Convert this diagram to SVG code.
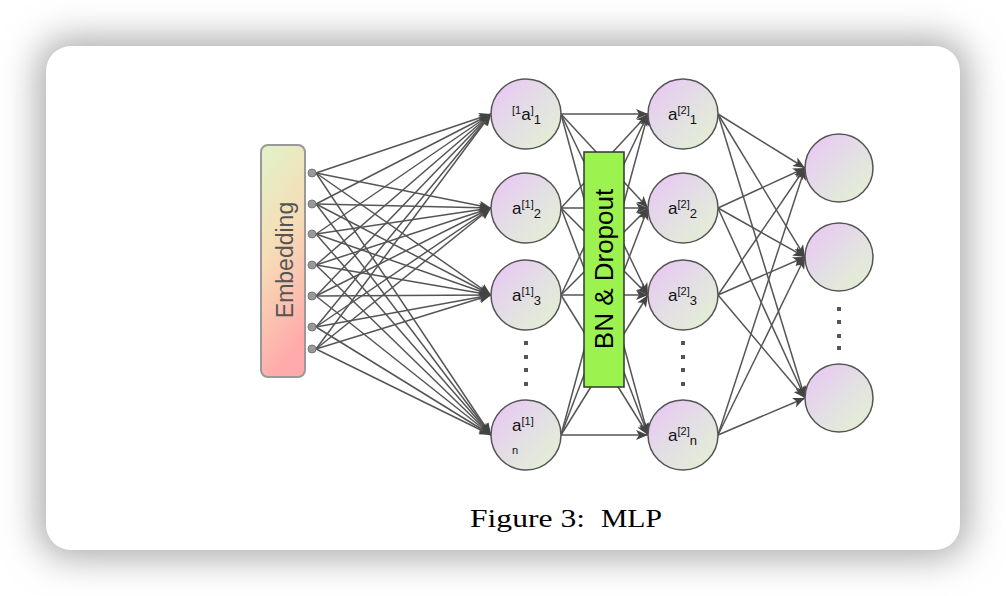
<svg xmlns="http://www.w3.org/2000/svg" width="1006" height="596" viewBox="0 0 1006 596">
<defs>
<filter id="sh" x="-20%" y="-20%" width="140%" height="140%"><feGaussianBlur stdDeviation="18"/></filter>
<linearGradient id="ng" x1="0" y1="0" x2="1" y2="1"><stop offset="0" stop-color="#eac3f7"/><stop offset="0.5" stop-color="#e3dfe4"/><stop offset="1" stop-color="#e3f3d0"/></linearGradient>
<linearGradient id="eg" x1="0" y1="0" x2="0.25" y2="1"><stop offset="0" stop-color="#e1f3c9"/><stop offset="0.5" stop-color="#f6dcb6"/><stop offset="1" stop-color="#ffabab"/></linearGradient>
<marker id="ar" viewBox="0 0 12 10" refX="12" refY="5" markerWidth="12" markerHeight="10" markerUnits="userSpaceOnUse" orient="auto"><path d="M0,0 L12,5 L0,10 L3,5 z" fill="#444"/></marker>
<style>
.e{stroke:#555;stroke-width:1.5;fill:none;marker-end:url(#ar)}
.n{fill:url(#ng);stroke:#555;stroke-width:1.5}
.d{fill:#999;stroke:#777;stroke-width:1}
.l{font-family:"Liberation Sans",Arial,sans-serif;fill:#111}
.dot{fill:#555}
.cap{font-family:"Liberation Serif","Times New Roman",serif;font-size:26px;fill:#000}
</style>
</defs>
<rect x="0" y="0" width="1006" height="596" fill="#fff"/>
<rect x="38" y="38" width="930" height="520" rx="32" fill="#aaa" filter="url(#sh)"/>
<rect x="46" y="46" width="914" height="504" rx="25" fill="#fff"/>
<g id="connectors">
<line class="e" x1="316" y1="173" x2="491" y2="114"/><line class="e" x1="316" y1="173" x2="491" y2="208"/><line class="e" x1="316" y1="173" x2="491" y2="295"/><line class="e" x1="316" y1="173" x2="491" y2="435"/>
<line class="e" x1="316" y1="204" x2="491" y2="114"/><line class="e" x1="316" y1="204" x2="491" y2="208"/><line class="e" x1="316" y1="204" x2="491" y2="295"/><line class="e" x1="316" y1="204" x2="491" y2="435"/>
<line class="e" x1="316" y1="234" x2="491" y2="114"/><line class="e" x1="316" y1="234" x2="491" y2="208"/><line class="e" x1="316" y1="234" x2="491" y2="295"/><line class="e" x1="316" y1="234" x2="491" y2="435"/>
<line class="e" x1="316" y1="265" x2="491" y2="114"/><line class="e" x1="316" y1="265" x2="491" y2="208"/><line class="e" x1="316" y1="265" x2="491" y2="295"/><line class="e" x1="316" y1="265" x2="491" y2="435"/>
<line class="e" x1="316" y1="296" x2="491" y2="114"/><line class="e" x1="316" y1="296" x2="491" y2="208"/><line class="e" x1="316" y1="296" x2="491" y2="295"/><line class="e" x1="316" y1="296" x2="491" y2="435"/>
<line class="e" x1="316" y1="327" x2="491" y2="114"/><line class="e" x1="316" y1="327" x2="491" y2="208"/><line class="e" x1="316" y1="327" x2="491" y2="295"/><line class="e" x1="316" y1="327" x2="491" y2="435"/>
<line class="e" x1="316" y1="349" x2="491" y2="114"/><line class="e" x1="316" y1="349" x2="491" y2="208"/><line class="e" x1="316" y1="349" x2="491" y2="295"/><line class="e" x1="316" y1="349" x2="491" y2="435"/>
<line class="e" x1="561" y1="114" x2="648" y2="114"/><line class="e" x1="561" y1="114" x2="648" y2="208"/><line class="e" x1="561" y1="114" x2="648" y2="295"/><line class="e" x1="561" y1="114" x2="648" y2="435"/>
<line class="e" x1="561" y1="208" x2="648" y2="114"/><line class="e" x1="561" y1="208" x2="648" y2="208"/><line class="e" x1="561" y1="208" x2="648" y2="295"/><line class="e" x1="561" y1="208" x2="648" y2="435"/>
<line class="e" x1="561" y1="295" x2="648" y2="114"/><line class="e" x1="561" y1="295" x2="648" y2="208"/><line class="e" x1="561" y1="295" x2="648" y2="295"/><line class="e" x1="561" y1="295" x2="648" y2="435"/>
<line class="e" x1="561" y1="435" x2="648" y2="114"/><line class="e" x1="561" y1="435" x2="648" y2="208"/><line class="e" x1="561" y1="435" x2="648" y2="295"/><line class="e" x1="561" y1="435" x2="648" y2="435"/>
<line class="e" x1="718" y1="114" x2="805" y2="168"/><line class="e" x1="718" y1="114" x2="805" y2="257"/><line class="e" x1="718" y1="114" x2="805" y2="398"/>
<line class="e" x1="718" y1="208" x2="805" y2="168"/><line class="e" x1="718" y1="208" x2="805" y2="257"/><line class="e" x1="718" y1="208" x2="805" y2="398"/>
<line class="e" x1="718" y1="295" x2="805" y2="168"/><line class="e" x1="718" y1="295" x2="805" y2="257"/><line class="e" x1="718" y1="295" x2="805" y2="398"/>
<line class="e" x1="718" y1="435" x2="805" y2="168"/><line class="e" x1="718" y1="435" x2="805" y2="257"/><line class="e" x1="718" y1="435" x2="805" y2="398"/>
</g>
<g id="embedding">
<rect x="261" y="145" width="44" height="232" rx="7" fill="url(#eg)" stroke="#999" stroke-width="2"/>
<text transform="translate(293,260) rotate(-90)" text-anchor="middle" font-family="Liberation Sans, Arial, sans-serif" font-size="23" fill="#555">Embedding</text>
<circle class="d" cx="312" cy="173" r="4"/><circle class="d" cx="312" cy="204" r="4"/><circle class="d" cx="312" cy="234" r="4"/><circle class="d" cx="312" cy="265" r="4"/><circle class="d" cx="312" cy="296" r="4"/><circle class="d" cx="312" cy="327" r="4"/><circle class="d" cx="312" cy="349" r="4"/>
</g>
<g id="bn">
<rect x="584" y="152" width="40" height="235" fill="#9cf24f" stroke="#333" stroke-width="1.5"/>
<text transform="translate(613,269) rotate(-90)" text-anchor="middle" font-family="Liberation Sans, Arial, sans-serif" font-size="26" fill="#000">BN &amp; Dropout</text>
</g>
<g id="h1_1"><circle class="n" cx="526" cy="114" r="35"/><text class="l" x="512" y="120"><tspan font-size="11" dy="-6">[1</tspan><tspan font-size="17" dy="6">a</tspan><tspan font-size="11" dy="-6">]</tspan><tspan font-size="13" dy="10">1</tspan></text></g>
<g id="h1_2"><circle class="n" cx="526" cy="208" r="35"/><text class="l" x="512" y="214"><tspan font-size="17">a</tspan><tspan font-size="11" dy="-6">[1]</tspan><tspan font-size="13" dy="10">2</tspan></text></g>
<g id="h1_3"><circle class="n" cx="526" cy="295" r="35"/><text class="l" x="512" y="301"><tspan font-size="17">a</tspan><tspan font-size="11" dy="-6">[1]</tspan><tspan font-size="13" dy="10">3</tspan></text></g>
<g id="h1_n"><circle class="n" cx="526" cy="435" r="35"/><text class="l" x="512" y="431"><tspan font-size="17">a</tspan><tspan font-size="11" dy="-6">[1]</tspan></text><text class="l" x="512" y="454" font-size="11">n</text></g>
<g id="h1_dots"><rect class="dot" x="524" y="341" width="4" height="4"/><rect class="dot" x="524" y="355" width="4" height="4"/><rect class="dot" x="524" y="368" width="4" height="4"/><rect class="dot" x="524" y="382" width="4" height="4"/></g>
<g id="h2_1"><circle class="n" cx="683" cy="114" r="35"/><text class="l" x="668" y="120"><tspan font-size="17">a</tspan><tspan font-size="11" dy="-6">[2]</tspan><tspan font-size="13" dy="10">1</tspan></text></g>
<g id="h2_2"><circle class="n" cx="683" cy="208" r="35"/><text class="l" x="668" y="214"><tspan font-size="17">a</tspan><tspan font-size="11" dy="-6">[2]</tspan><tspan font-size="13" dy="10">2</tspan></text></g>
<g id="h2_3"><circle class="n" cx="683" cy="295" r="35"/><text class="l" x="668" y="301"><tspan font-size="17">a</tspan><tspan font-size="11" dy="-6">[2]</tspan><tspan font-size="13" dy="10">3</tspan></text></g>
<g id="h2_n"><circle class="n" cx="683" cy="435" r="35"/><text class="l" x="668" y="441"><tspan font-size="17">a</tspan><tspan font-size="11" dy="-6">[2]</tspan><tspan font-size="13" dy="10">n</tspan></text></g>
<g id="h2_dots"><rect class="dot" x="681" y="341" width="4" height="4"/><rect class="dot" x="681" y="355" width="4" height="4"/><rect class="dot" x="681" y="368" width="4" height="4"/><rect class="dot" x="681" y="382" width="4" height="4"/></g>
<g id="o1"><circle class="n" cx="839" cy="168" r="34"/></g>
<g id="o2"><circle class="n" cx="839" cy="257" r="34"/></g>
<g id="o3"><circle class="n" cx="839" cy="398" r="34"/></g>
<g id="o_dots"><rect class="dot" x="837" y="307" width="4" height="4"/><rect class="dot" x="837" y="320" width="4" height="4"/><rect class="dot" x="837" y="334" width="4" height="4"/><rect class="dot" x="837" y="346" width="4" height="4"/></g>
<g id="caption">
<text class="cap" x="470" y="527" textLength="115" lengthAdjust="spacingAndGlyphs">Figure 3:</text>
<text class="cap" x="601" y="527" textLength="61" lengthAdjust="spacingAndGlyphs">MLP</text>
</g>
</svg>
